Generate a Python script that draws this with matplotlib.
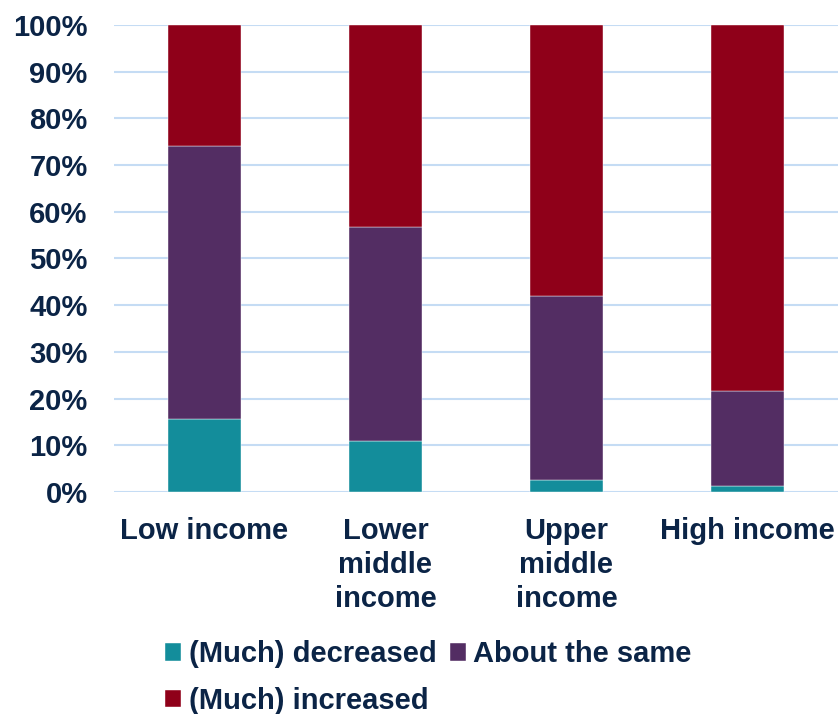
import matplotlib
matplotlib.use("Agg")
import matplotlib.pyplot as plt
import numpy as np

categories = ["Low income", "Lower\nmiddle\nincome", "Upper\nmiddle\nincome", "High income"]
decreased = [15.6, 10.9, 2.6, 1.3]
same_cum = [74.1, 56.7, 42.0, 21.6]
about_same = [s - d for s, d in zip(same_cum, decreased)]
increased = [100 - s for s in same_cum]
yticks = [0, 10, 20, 30, 40, 50, 60, 70, 80, 90, 100]

plt.rcParams['font.family'] = ['Liberation Sans', 'DejaVu Sans']
txt = '#0b2446'
c_dec, c_same, c_inc = '#138d9b', '#532d63', '#8f0019'
fs = 21

fig = plt.figure(figsize=(8.38, 7.14), dpi=100)
ax = fig.add_axes([0.136, 0.311, 0.864, 0.654])
x = np.arange(len(categories))
w = 0.4
b1 = ax.bar(x, decreased, w, color=c_dec, label="(Much) decreased", zorder=3, edgecolor='#ffffff', linewidth=0.3)
b2 = ax.bar(x, about_same, w, bottom=decreased, color=c_same, label="About the same", zorder=3, edgecolor='#ffffff', linewidth=0.3)
b3 = ax.bar(x, increased, w, bottom=same_cum, color=c_inc, label="(Much) increased", zorder=3, edgecolor='#ffffff', linewidth=0.3)

ax.set_xlim(-0.5, len(categories) - 0.5)
ax.set_ylim(0, 100)
ax.set_yticks(yticks)
ax.set_yticklabels([f"{t}%" for t in yticks], fontsize=fs, fontweight='bold', color=txt)
ax.set_xticks(x)
ax.set_xticklabels(categories, fontsize=fs, fontweight='bold', color=txt, linespacing=1.28)
ax.tick_params(axis='both', length=0)
ax.tick_params(axis='y', pad=19)
ax.tick_params(axis='x', pad=18)
ax.grid(axis='y', color='#c5dcf4', linewidth=1.5, zorder=0)
for s in ax.spines.values():
    s.set_visible(False)

leg = fig.legend([b1, b3, b2], ["(Much) decreased", "(Much) increased", "About the same"],
                 ncol=2, loc='upper left', bbox_to_anchor=(0.180, 0.124), frameon=False,
                 prop={'size': fs, 'weight': 'bold'}, handlelength=0.55, handleheight=0.55,
                 handletextpad=0.25, columnspacing=0.45, labelspacing=0.65, borderpad=0)
for t in leg.get_texts():
    t.set_color(txt)

fig.savefig("out.png", dpi=100)
